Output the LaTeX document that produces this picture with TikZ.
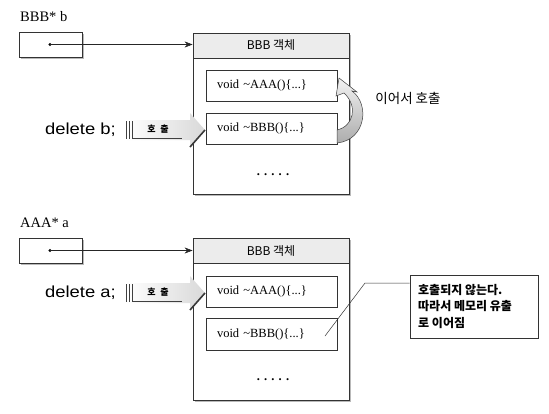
\documentclass[tikz,border=0pt]{standalone}
\usepackage{fontspec}
\setmainfont{Liberation Serif}
\newfontfamily\krf{Noto Sans CJK KR}
\newfontfamily\delf[FakeStretch=1.15]{Liberation Sans}
\usetikzlibrary{arrows.meta,shadows}
\begin{document}
\begin{tikzpicture}[x=1pt,y=-1pt,
  shd/.style={drop shadow={shadow xshift=2pt,shadow yshift=-2pt,fill=gray!55,opacity=1}},
  shds/.style={drop shadow={shadow xshift=1.2pt,shadow yshift=-1.2pt,fill=gray!60,opacity=1}},
  ptrbox/.style={draw=black!80,line width=0.8pt,fill=white,shd,minimum width=63pt,minimum height=25pt,inner sep=0pt},
  objbox/.style={draw=black!80,line width=0.8pt,fill=white,shd,minimum width=156pt,inner sep=0pt},
  hdr/.style={draw=black!80,line width=0.8pt,fill=gray!15,minimum width=156pt,minimum height=25pt,inner sep=0pt,font=\krf\fontsize{12}{13}\selectfont},
  fnbox/.style={draw=black!80,line width=0.7pt,fill=white,shds,minimum width=131pt,minimum height=31pt,inner xsep=11pt,inner ysep=0pt,text width=109pt,align=left,font=\fontsize{12.5}{14}\selectfont},
  ptr/.style={-{Stealth[length=8pt,width=6pt]},line width=0.6pt,black!85},
  lbl/.style={font=\fontsize{14.5}{16}\selectfont,inner sep=0pt},
  dele/.style={font=\delf\fontsize{16}{17}\selectfont,inner sep=0pt},
  blk/.style={left color=white,right color=gray!30,draw=none},
  dotc/.style={circle,fill=black,inner sep=0pt,minimum size=3.2pt}
]
\useasboundingbox (0,0) rectangle (549,413);
\fill[white] (0,0) rectangle (549,413);

% ---------- top ----------
\node[lbl,anchor=west] (lb) at (20,17) {BBB* b};
\node[ptrbox] (pb) at (50.5,44.5) {};
\node[dotc] (db) at (50,44.5) {};
\node[objbox,minimum height=161pt] (ob) at (271,113.5) {};
\node[hdr] (hb) at (271,45.5) {BBB 객체};
\node[fnbox] (a1) at (271.5,85.5) {void \textasciitilde AAA()\{...\}};
\node[fnbox] (b1) at (271.5,128.5) {void \textasciitilde BBB()\{...\}};
\node[font=\fontsize{12.5}{14}\selectfont\bfseries] (d1) at (273,175) {. . . . .};
\draw[ptr] (db.center) -- (db.center -| hb.west);

\node[dele,anchor=west] (del1) at (45,130) {delete b;};
% block arrow top
\path[blk] (125,120) -- (190,120) -- (190,113) -- (205,130) -- (190,147) -- (190,140) -- (125,140) -- cycle;
\draw[gray!45!black,line width=1.6pt] (205,130) -- (190,147);
\draw[gray!50!black,line width=0.7pt] (126,121) -- (126,139) (129,121) -- (129,139) (132,121) -- (132,138) -- (182,138);
\node[font=\krf\bfseries\fontsize{9}{10}\selectfont,inner sep=0pt] (c1) at (158,129) {호\,\,\,출};

% curved arrow
\path[top color=gray!10,bottom color=gray!65,draw=gray!50!black,line width=0.5pt]
  (337,143) .. controls (366,140) and (370,104) .. (352,91)
  -- (357,92) -- (339,78) -- (336,96) -- (344,93)
  .. controls (358,106) and (354,126) .. (337,130) -- cycle;
\node[font=\krf\fontsize{13.5}{15}\selectfont,inner sep=0pt] (ia) at (408,98) {이어서 호출};

% ---------- bottom ----------
\node[lbl,anchor=west] (la) at (20,223) {AAA* a};
\node[ptrbox] (pa) at (50.5,250.5) {};
\node[dotc] (da) at (50,250.5) {};
\node[objbox,minimum height=162pt] (oa) at (271,319) {};
\node[hdr] (ha) at (271,250.5) {BBB 객체};
\node[fnbox] (a2) at (271.5,291.5) {void \textasciitilde AAA()\{...\}};
\node[fnbox,minimum height=32pt] (b2) at (271.5,334) {void \textasciitilde BBB()\{...\}};
\node[font=\fontsize{12.5}{14}\selectfont\bfseries] (d2) at (273,380) {. . . . .};
\draw[ptr] (da.center) -- (da.center -| ha.west);

\node[dele,anchor=west] (del2) at (45,293) {delete a;};
\path[blk] (125,283) -- (190,283) -- (190,276) -- (205,293) -- (190,310) -- (190,303) -- (125,303) -- cycle;
\draw[gray!45!black,line width=1.6pt] (205,293) -- (190,310);
\draw[gray!50!black,line width=0.7pt] (126,284) -- (126,302) (129,284) -- (129,302) (132,284) -- (132,301) -- (182,301);
\node[font=\krf\bfseries\fontsize{9}{10}\selectfont,inner sep=0pt] (c2) at (158,292) {호\,\,\,출};

% callout
\node[draw=black!80,line width=0.7pt,fill=white,shds,minimum width=128pt,minimum height=63pt,inner sep=0pt] (co) at (474,306.5) {};
\node[anchor=north west,align=left,inner sep=0pt,font=\krf\bfseries\fontsize{12}{16.5}\selectfont] (ct) at (418,284) {호출되지 않는다.\\따라서 메모리 유출\\로 이어짐};
\coordinate (lk) at (365,283);
\coordinate (le) at (325,336);
\draw[line width=0.5pt,black!80] (co.west |- lk) -- (lk) -- (le);
\end{tikzpicture}
\end{document}
